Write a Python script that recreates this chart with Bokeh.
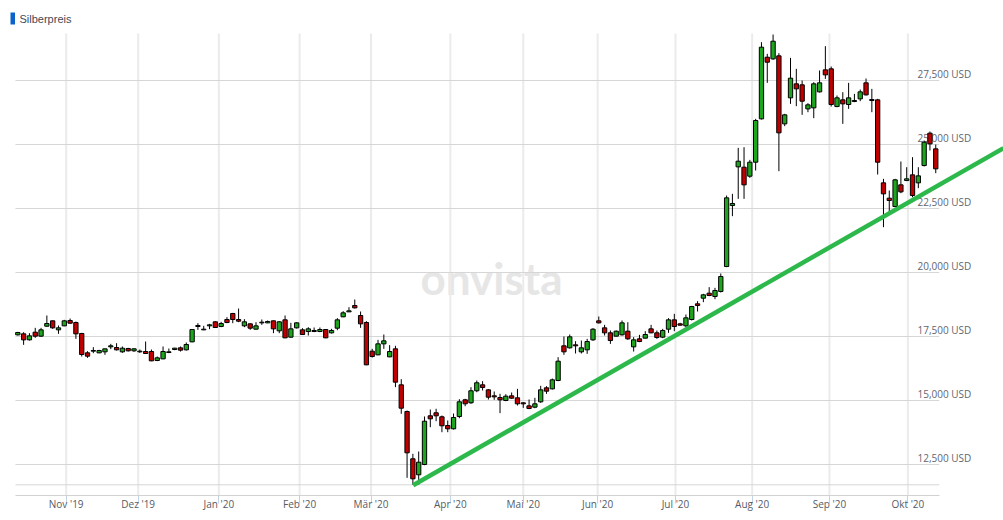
from bokeh.plotting import figure
from bokeh.models import ColumnDataSource, FixedTicker, Range1d, Label, BoxAnnotation
from bokeh.core.properties import value
from bokeh.embed import file_html
from bokeh.resources import INLINE

# silver price candles (USD), oldest first
opens = [17565, 17604, 17369, 17669, 17513, 17903, 18112, 17760, 17916, 18125,
         18046, 17617, 16862, 16927, 16862, 16901, 17096, 17070, 16901, 17031,
         16940, 16901, 16914, 16914, 16562, 16627, 16875, 16992, 17057, 16979,
         17291, 17890, 17760, 17916, 18073, 17890, 18164, 18398, 18164, 17916,
         17994, 17786, 18033, 18033, 18112, 17721, 18151, 17474, 17838, 17760,
         17695, 17695, 17695, 17773, 17643, 17825, 18268, 18463, 18710, 18320,
         18046, 16927, 16784, 17213, 16705, 17018, 15612, 14570, 12723, 12098,
         12500, 14402, 14519, 14363, 14023, 13894, 14375, 15027, 14910, 15379,
         15612, 15416, 15182, 15117, 15000, 15182, 15104, 14909, 14791, 14739,
         14948, 15495, 15455, 15781, 17135, 17057, 17174, 16901, 16979, 17369,
         18112, 17838, 17643, 17513, 17565, 17708, 17096, 17408, 17435, 17799,
         17643, 17474, 17786, 18151, 17994, 17916, 18164, 18776, 18997, 19192,
         19062, 19258, 20234, 22616, 24127, 24114, 23762, 24309, 26002, 28410,
         28345, 28462, 25806, 26822, 27369, 27330, 26392, 26431, 27056, 27916,
         27955, 26483, 26744, 26562, 26679, 26783, 27408, 26757, 26744, 23502,
         22903, 22577, 23424, 23593, 23814, 23502, 24179, 25442, 24830]
highs = [17682, 17669, 17630, 17838, 17838, 18320, 18125, 17929, 18151, 18203,
         18086, 17643, 16927, 17083, 16979, 17018, 17213, 17239, 17109, 17057,
         17044, 16992, 17304, 16992, 16718, 17109, 17031, 17057, 17109, 17265,
         17786, 18020, 17916, 17994, 18099, 18073, 18255, 18424, 18593, 18177,
         18020, 18059, 18164, 18125, 18125, 18099, 18320, 18033, 18059, 17825,
         17864, 17851, 17851, 17786, 17799, 18216, 18489, 18645, 18945, 18476,
         18099, 17018, 17369, 17578, 17161, 17135, 15833, 14609, 12918, 13008,
         14375, 14648, 14676, 14414, 14219, 14492, 15051, 15066, 15519, 15781,
         15755, 15442, 15351, 15260, 15247, 15312, 15455, 14935, 15039, 15104,
         15573, 15560, 15859, 16692, 17500, 17578, 17317, 17343, 17408, 17825,
         18281, 17955, 17734, 17734, 18125, 18059, 17474, 17565, 17708, 17955,
         17734, 17799, 18216, 18385, 18033, 18359, 18697, 18880, 19166, 19427,
         19401, 19961, 23007, 23072, 24869, 24895, 24400, 26002, 28996, 28541,
         29296, 28567, 26197, 28384, 27955, 27499, 26614, 27434, 27890, 28840,
         28046, 26913, 27043, 27408, 26978, 27147, 27577, 27173, 26783, 23658,
         23202, 23658, 24335, 24114, 24504, 24114, 25155, 25507, 24999]
lows = [17539, 17174, 17343, 17448, 17487, 17877, 17799, 17604, 17903, 17994,
        17408, 16718, 16666, 16849, 16849, 16784, 17005, 16953, 16862, 16914,
        16901, 16862, 16823, 16536, 16536, 16614, 16849, 16966, 16914, 16953,
        17278, 17760, 17747, 17786, 17838, 17864, 18020, 18020, 18059, 17864,
        17760, 17773, 17955, 18020, 17630, 17630, 17435, 17448, 17812, 17565,
        17539, 17669, 17669, 17435, 17617, 17747, 18255, 18463, 18593, 17838,
        16380, 16679, 16771, 17018, 16692, 15521, 14479, 11979, 11707, 11707,
        12473, 13957, 14191, 13762, 13762, 13867, 14309, 14777, 14871, 15324,
        15390, 15039, 15026, 14505, 14974, 15065, 14804, 14713, 14661, 14700,
        14909, 15260, 15429, 15755, 16784, 17031, 16836, 16836, 16823, 17330,
        18007, 17539, 17213, 17500, 17539, 17369, 16914, 17278, 17422, 17630,
        17408, 17435, 17643, 17708, 17929, 17864, 18125, 18476, 18841, 19075,
        18958, 19219, 20208, 22200, 22877, 22877, 23697, 23984, 25976, 27408,
        28306, 23958, 25715, 26588, 26496, 26158, 26262, 26028, 27030, 27564,
        26483, 26457, 25806, 26392, 26653, 26692, 26913, 26262, 23827, 21770,
        22356, 22551, 23098, 23567, 22942, 23294, 24140, 24765, 23879]
closes = [17656, 17369, 17526, 17513, 17760, 18007, 17838, 17838, 18112, 18020,
          17604, 16797, 16731, 16953, 16953, 17018, 17135, 16979, 17044, 16940,
          17018, 16927, 16836, 16549, 16666, 16914, 16901, 17044, 16966, 17187,
          17773, 17929, 17786, 17955, 17851, 18007, 18046, 18164, 18099, 18073,
          17825, 17916, 18059, 18086, 17799, 18073, 17448, 17799, 18033, 17578,
          17799, 17734, 17773, 17448, 17734, 18151, 18424, 18502, 18619, 17994,
          16393, 16718, 17213, 17330, 16914, 15716, 14700, 12956, 11941, 12590,
          14191, 14285, 14402, 14012, 13894, 14336, 14949, 14871, 15379, 15691,
          15508, 15130, 15143, 15026, 15169, 15091, 14870, 14870, 14687, 14870,
          15416, 15364, 15807, 16536, 16901, 17487, 17135, 17057, 17304, 17786,
          18033, 17643, 17343, 17708, 18033, 17408, 17369, 17304, 17578, 17643,
          17461, 17734, 18151, 17890, 17942, 18229, 18671, 18710, 19127, 19101,
          19296, 19844, 22916, 22695, 24348, 23424, 24309, 25937, 28801, 28215,
          29035, 25455, 26158, 27590, 27173, 26692, 26549, 27369, 27408, 27720,
          26562, 26822, 26588, 26822, 26718, 27056, 26939, 26718, 24309, 23072,
          22812, 23619, 23150, 23658, 23007, 23775, 25090, 25025, 24049]

# month starts, measured in candle positions
month_pos = [8.33, 20.72, 34.6, 48.5, 60.8, 74.45, 87.0, 99.8, 113.2, 126.4, 139.7, 153.2]
month_labels = ["Nov '19", "Dez '19", "Jan '20", "Feb '20", "Mär '20", "Apr '20",
                "Mai '20", "Jun '20", "Jul '20", "Aug '20", "Sep '20", "Okt '20"]

price_ticks = [12500, 15000, 17500, 20000, 22500, 25000, 27500]
price_labels = [f"{t:,} USD" for t in price_ticks]
floor_level = 11707
chart_top = 29336

# hand-drawn support line
trend_x = [68.05, 169.66]
trend_y = [11690, 24860]

idx = list(range(len(opens)))
up = [c >= o for o, c in zip(opens, closes)]
src = ColumnDataSource(dict(
    x=idx, high=highs, low=lows,
    top=[max(o, c) for o, c in zip(opens, closes)],
    bottom=[min(o, c) for o, c in zip(opens, closes)],
    color=["#1ea51e" if u else "#c00000" for u in up],
))

x_left, x_plot_end = -0.4, 158.6
y_bottom = 11289

p = figure(width=1003, height=520, output_backend="svg", toolbar_location=None,
           x_range=Range1d(-2.98, 169.66), y_range=Range1d(y_bottom, 30625),
           y_axis_location=None, min_border_left=0, min_border_right=0,
           min_border_top=0, min_border_bottom=25)
p.outline_line_color = None
p.background_fill_color = "white"
p.grid.visible = False

ax = p.xaxis[0]
ax.ticker = FixedTicker(ticks=month_pos)
ax.major_label_overrides = dict(zip(month_pos, month_labels))
ax.bounds = (x_left, x_plot_end)
ax.axis_line_color = "#d2d2d2"
ax.major_tick_line_color = "#c3d2e4"
ax.major_tick_out = 8
ax.major_tick_in = 0
ax.minor_tick_line_color = None
ax.major_label_standoff = -7
ax.major_label_text_font = "Open Sans"
ax.major_label_text_font_size = "10px"
ax.major_label_text_color = "#555b66"

# watermark
p.add_layout(Label(x=491, y=277, x_units="canvas", y_units="canvas", text="onvista",
                   text_font="Lato", text_font_style="bold", text_font_size="44px",
                   text_color="#e6e6e6", text_align="center", text_baseline="alphabetic",
                   level="underlay"))

# vertical month lines
m = len(month_pos)
p.segment(x0=month_pos, x1=month_pos, y0=[chart_top] * m, y1=[y_bottom] * m,
          line_color="#ebebeb", line_width=2)

# horizontal grid lines stop before the price labels
n = len(price_ticks)
p.segment(x0=[x_left] * n, x1=[x_plot_end] * n, y0=price_ticks, y1=price_ticks,
          line_color="#d6d6d6", line_width=1)
p.segment(x0=[x_left], x1=[x_plot_end], y0=[floor_level], y1=[floor_level],
          line_color="#d6d6d6", line_width=1)
p.text(x=[154.85] * n, y=price_ticks, text=price_labels, text_font=value("Open Sans"),
       text_font_size="10px", text_color="#5f6570", text_align="left",
       text_baseline="middle", y_offset=-6)

# candles
p.segment(x0="x", x1="x", y0="low", y1="high", line_color="black", line_width=1, source=src)
p.vbar(x="x", width=0.74, top="top", bottom="bottom", fill_color="color",
       line_color="black", line_width=1, source=src)

p.line(trend_x, trend_y, line_color="#2db84b", line_width=4.5)

# title
p.add_layout(BoxAnnotation(left=10, right=14.5, top=12, bottom=24, left_units="canvas",
                           right_units="canvas", top_units="canvas", bottom_units="canvas",
                           fill_color="#0d62c9", fill_alpha=1, line_color=None))
p.add_layout(Label(x=19, y=18, x_units="canvas", y_units="canvas", text="Silberpreis",
                   text_font="Liberation Sans", text_font_size="11px", text_color="#3f4957",
                   text_baseline="middle"))

open("out.html", "w").write(file_html(p, INLINE))
